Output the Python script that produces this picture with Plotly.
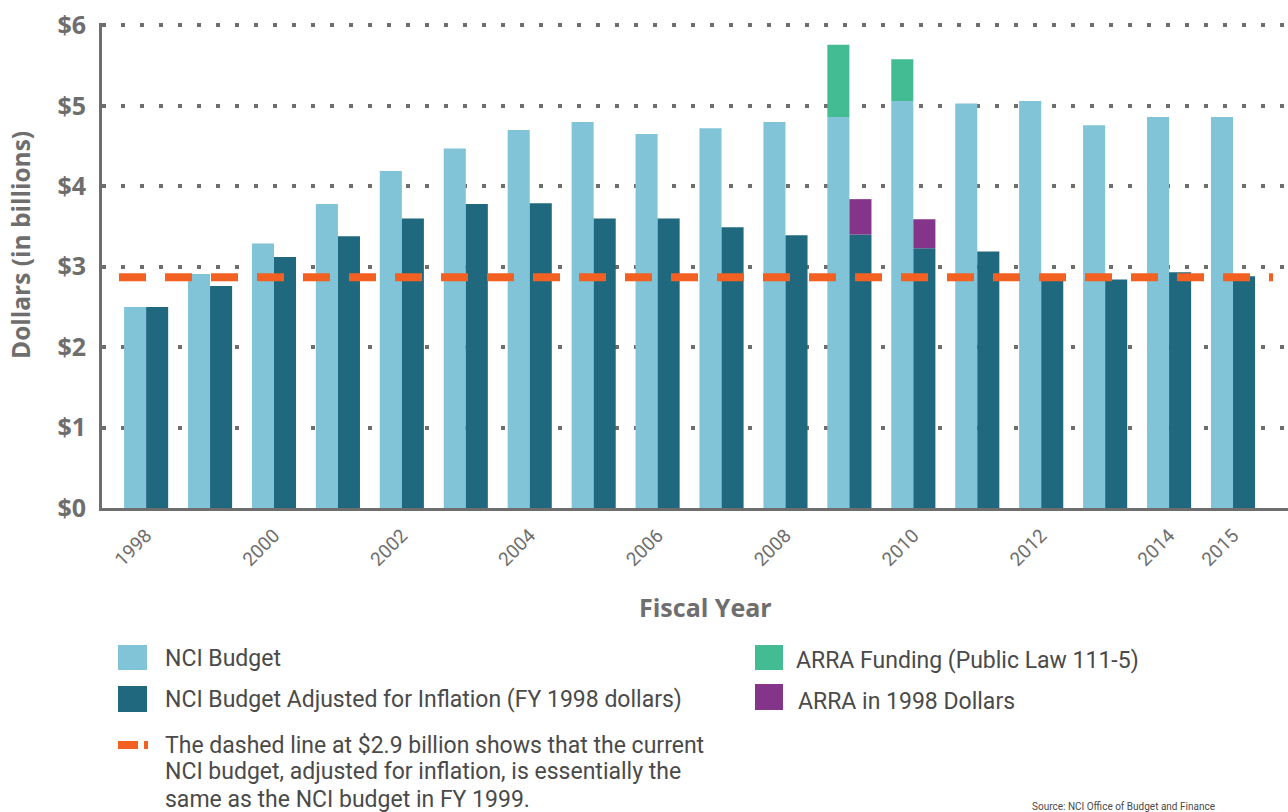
import plotly.graph_objects as go

# ---------------- data ----------------
years = [str(y) for y in range(1998, 2016)]
nci_budget = [2.50, 2.91, 3.29, 3.78, 4.19, 4.47, 4.70, 4.80, 4.65, 4.72,
              4.80, 4.86, 5.06, 5.03, 5.06, 4.76, 4.86, 4.86]
nci_adjusted = [2.50, 2.76, 3.12, 3.38, 3.60, 3.78, 3.79, 3.60, 3.60, 3.49,
                3.39, 3.40, 3.23, 3.19, 2.88, 2.84, 2.93, 2.88]
arra_funding = [None] * 11 + [0.90, 0.52] + [None] * 5
arra_1998 = [None] * 11 + [0.44, 0.36] + [None] * 5
reference_level = 2.87  # "$2.9 billion" dashed line
tick_years = ["1998", "2000", "2002", "2004", "2006", "2008", "2010", "2012", "2014", "2015"]
y_ticks = [0, 1, 2, 3, 4, 5, 6]
y_tick_text = ["$0", "$1", "$2", "$3", "$4", "$5", "$6"]

series_names = [
    "NCI Budget",
    "NCI Budget Adjusted for Inflation (FY 1998 dollars)",
    "ARRA Funding (Public Law 111-5)",
    "ARRA in 1998 Dollars",
]
dash_note = ["The dashed line at $2.9 billion shows that the current",
             "NCI budget, adjusted for inflation, is essentially the",
             "same as the NCI budget in FY 1999."]
source_text = "Source: NCI Office of Budget and Finance"

# ---------------- style ----------------
C_LIGHT = "#82c4d7"
C_DARK = "#20687d"
C_GREEN = "#43bc93"
C_PURPLE = "#84358a"
C_ORANGE = "#f26122"
C_GRAY = "#6e6e6e"
C_TEXT = "#4a4a4a"
FONT = "Roboto"
FONT_B = "Open Sans"
LEG_SIZE = 23

W, H = 1288, 812
L, T, B = 102, 23, 304
PW, PH = W - L, H - T - B


def px(x):
    return (x - L) / PW


def py(y):
    return (H - B - y) / PH


base_arra = [b if a is not None else None for a, b in zip(arra_funding, nci_budget)]
base_arra98 = [b if a is not None else None for a, b in zip(arra_1998, nci_adjusted)]

fig = go.Figure()
fig.add_trace(go.Bar(x=years, y=nci_budget, name=series_names[0], offsetgroup="a",
                     marker=dict(color=C_LIGHT, line=dict(width=0))))
fig.add_trace(go.Bar(x=years, y=arra_funding, base=base_arra, name=series_names[2], offsetgroup="a",
                     marker=dict(color=C_GREEN, line=dict(width=0))))
fig.add_trace(go.Bar(x=years, y=nci_adjusted, name=series_names[1], offsetgroup="b",
                     marker=dict(color=C_DARK, line=dict(width=0))))
fig.add_trace(go.Bar(x=years, y=arra_1998, base=base_arra98, name=series_names[3], offsetgroup="b",
                     marker=dict(color=C_PURPLE, line=dict(width=0))))

# dashed reference line
fig.add_shape(type="line", xref="paper", yref="y", x0=px(119), x1=px(1273),
              y0=reference_level, y1=reference_level,
              line=dict(color=C_ORANGE, width=8, dash="27px,19px"), layer="above")

# ---------------- manual legend ----------------
swatches = [
    (118, 645, 147, 670, C_LIGHT, series_names[0], 163, 658),
    (118, 686, 147, 712, C_DARK, series_names[1], 163, 699),
    (755, 645, 783, 670, C_GREEN, series_names[2], 794, 660),
    (755, 684, 783, 710, C_PURPLE, series_names[3], 796, 701),
]
for x0, y0, x1, y1, col, name, tx, ty in swatches:
    fig.add_shape(type="rect", xref="paper", yref="paper", x0=px(x0), x1=px(x1),
                  y0=py(y1), y1=py(y0), fillcolor=col, line=dict(width=0))
    fig.add_annotation(xref="paper", yref="paper", x=px(tx), y=py(ty), text=name,
                       showarrow=False, xanchor="left", yanchor="middle",
                       font=dict(family=FONT, size=LEG_SIZE, color=C_TEXT))

fig.add_shape(type="rect", xref="paper", yref="paper", x0=px(118), x1=px(138),
              y0=py(749), y1=py(741), fillcolor=C_ORANGE, line=dict(width=0))
fig.add_shape(type="rect", xref="paper", yref="paper", x0=px(144), x1=px(148),
              y0=py(749), y1=py(741), fillcolor=C_ORANGE, line=dict(width=0))
for i, line in enumerate(dash_note):
    fig.add_annotation(xref="paper", yref="paper", x=px(163), y=py(745 + 27 * i), text=line,
                       showarrow=False, xanchor="left", yanchor="middle",
                       font=dict(family=FONT, size=LEG_SIZE, color=C_TEXT))

fig.add_annotation(xref="paper", yref="paper", x=px(1030), y=py(799), text=source_text,
                   showarrow=False, xanchor="left", yanchor="top",
                   font=dict(family=FONT, size=10, color=C_TEXT))

# axis titles
fig.add_annotation(xref="paper", yref="paper", x=px(705), y=py(607), text="<b>Fiscal Year</b>",
                   showarrow=False, xanchor="center", yanchor="middle",
                   font=dict(family=FONT_B, size=25, color=C_GRAY))
fig.add_annotation(xref="paper", yref="paper", x=px(20), y=py(245), text="<b>Dollars (in billions)</b>",
                   showarrow=False, xanchor="center", yanchor="middle", textangle=-90,
                   font=dict(family=FONT_B, size=24.5, color=C_GRAY))

fig.update_layout(
    width=W, height=H,
    margin=dict(l=L, r=0, t=T, b=B, pad=0),
    paper_bgcolor="white", plot_bgcolor="white",
    barmode="group", bargap=0.31, bargroupgap=0,
    showlegend=False,
    xaxis=dict(type="category", range=[-0.69, 17.86], tickmode="array",
               tickvals=tick_years, ticktext=tick_years, tickangle=-45,
               tickfont=dict(family=FONT, size=19, color=C_GRAY),
               showline=True, linecolor=C_GRAY, linewidth=3, ticks="",
               showgrid=False, ticklabelstandoff=6),
    yaxis=dict(range=[0, 6.03], tickmode="array", tickvals=y_ticks, ticktext=y_tick_text,
               tickfont=dict(family=FONT_B, size=25, color=C_GRAY, weight="bold"),
               showline=True, linecolor=C_GRAY, linewidth=3, ticks="",
               showgrid=True, gridcolor=C_GRAY, gridwidth=4, griddash="4px,15px",
               zeroline=False, ticklabelstandoff=8),
)

fig.write_html("out.html", config={"displayModeBar": False},
               post_script="document.body.style.margin='0';document.body.style.overflow='hidden';")
